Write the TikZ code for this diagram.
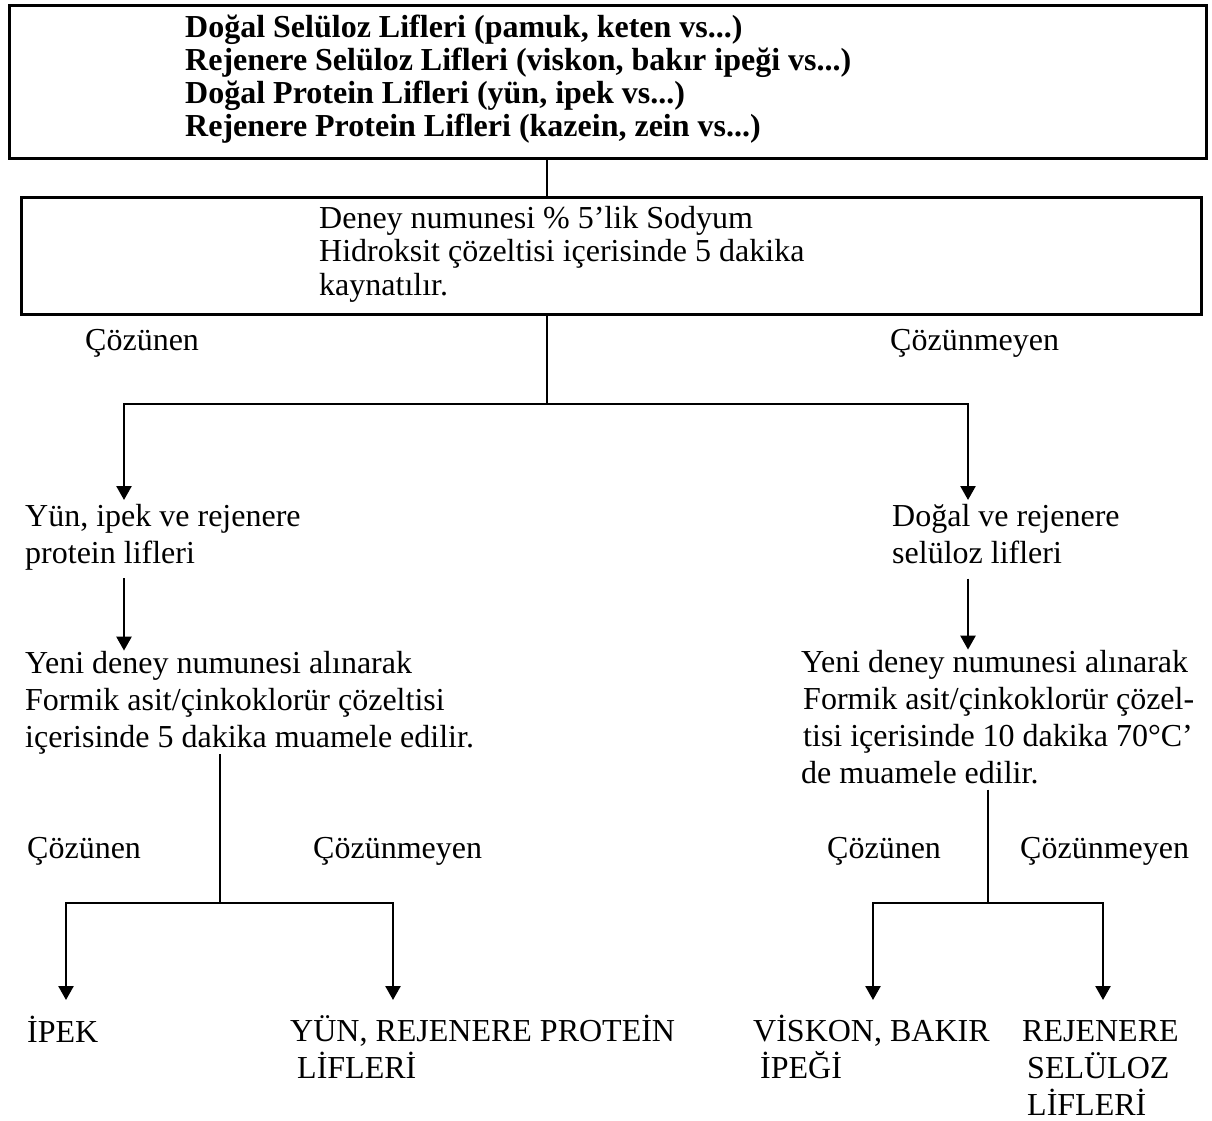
\documentclass[tikz,border=0pt]{standalone}
\usepackage{fontspec}
\setmainfont{Liberation Serif}
\usetikzlibrary{positioning,arrows.meta,calc}
\tikzset{kutu/.style={draw,line width=3pt,rectangle,inner sep=0pt,anchor=north west},metin/.style={inner sep=0pt,anchor=base west,align=left,font=\fontsize{32}{37}\selectfont}}

\begin{document}
\begin{tikzpicture}[x=1pt,y=-1pt,ok/.style={line width=2.5pt,-{Triangle[length=14pt,width=15pt]}},cizgi/.style={line width=1.5pt}]
			\useasboundingbox (0,0) rectangle (1212,1120);
			% kutular
			\node[kutu,minimum width=1197pt,minimum height=153pt] (lifler) at (8,4) {};
			\node[metin,font=\fontsize{32}{33}\selectfont\bfseries] (liste) at (185,136) {Doğal Selüloz Lifleri (pamuk, keten vs...)\\Rejenere Selüloz Lifleri (viskon, bakır ipeği vs...)\\Doğal Protein Lifleri (yün, ipek vs...)\\Rejenere Protein Lifleri (kazein, zein vs...)};
			\node[kutu,minimum width=1180pt,minimum height=117pt] (deney) at (20,196) {};
			\node[metin,font=\fontsize{32}{33.5}\selectfont] (kaynatma) at (319,295) {Deney numunesi \% 5’lik Sodyum\\Hidroksit çözeltisi içerisinde 5 dakika\\kaynatılır.};

			\coordinate (k0) at (547,404);
			\coordinate (a1) at (124,500);
			\coordinate (a2) at (968,500);
			\coordinate (k1) at (220,903);
			\coordinate (k2) at (988,903);
			\coordinate (b1) at (66,1000);
			\coordinate (b2) at (393,1000);
			\coordinate (b3) at (873,1000);
			\coordinate (b4) at (1103,1000);

			\node[metin] (cozunen0) at (85,350) {Çözünen};
			\node[metin] (cozunmeyen0) at (890,350) {Çözünmeyen};
			\node[metin] (protein) at (25,563) {Yün, ipek ve rejenere\\protein lifleri};
			\node[metin] (seluloz) at (892,563) {Doğal ve rejenere\\selüloz lifleri};
			\node[metin] (yeni1) at (25,747) {Yeni deney numunesi alınarak\\Formik asit/çinkoklorür çözeltisi\\içerisinde 5 dakika muamele edilir.};
			\node[metin] (yeni2) at (801,783) {Yeni deney numunesi alınarak\\\hspace*{2pt}Formik asit/çinkoklorür çözel-\\\hspace*{2pt}tisi içerisinde 10 dakika 70°C’\\de muamele edilir.};

			\node[metin] (cozunen1) at (27,858) {Çözünen};
			\node[metin] (cozunmeyen1) at (313,858) {Çözünmeyen};
			\node[metin] (cozunen2) at (827,858) {Çözünen};
			\node[metin] (cozunmeyen2) at (1020,858) {Çözünmeyen};

			\node[metin] (ipek) at (27,1042) {İPEK};
			\node[metin] (yun) at (290,1078) {YÜN, REJENERE PROTEİN\\\hspace*{7pt}LİFLERİ};
			\node[metin] (viskon) at (753,1078) {VİSKON, BAKIR\\\hspace*{7pt}İPEĞİ};
			\node[metin] (rejenere) at (1022,1115) {REJENERE\\\hspace*{5pt}SELÜLOZ\\\hspace*{5pt}LİFLERİ};

			% baglantilar
			\draw[cizgi] (lifler.south -| k0) -- (deney.north -| k0);
			\draw[cizgi] (deney.south -| k0) -- (k0);
			\draw[ok] (k0) -| (a1);
			\draw[ok] (k0) -| (a2);
			\draw[ok,shorten <=8pt] (protein.south -| a1) -- (yeni1.north -| a1);
			\draw[ok,shorten <=15pt] (seluloz.south -| a2) -- (yeni2.north -| a2);
			\draw[cizgi] (yeni1.south -| k1) -- (k1);
			\draw[cizgi,shorten <=6pt] (yeni2.south -| k2) -- (k2);
			\draw[ok] (k1) -| (b1);
			\draw[ok] (k1) -| (b2);
			\draw[ok] (k2) -| (b3);
			\draw[ok] (k2) -| (b4);
		\end{tikzpicture}
\end{document}
